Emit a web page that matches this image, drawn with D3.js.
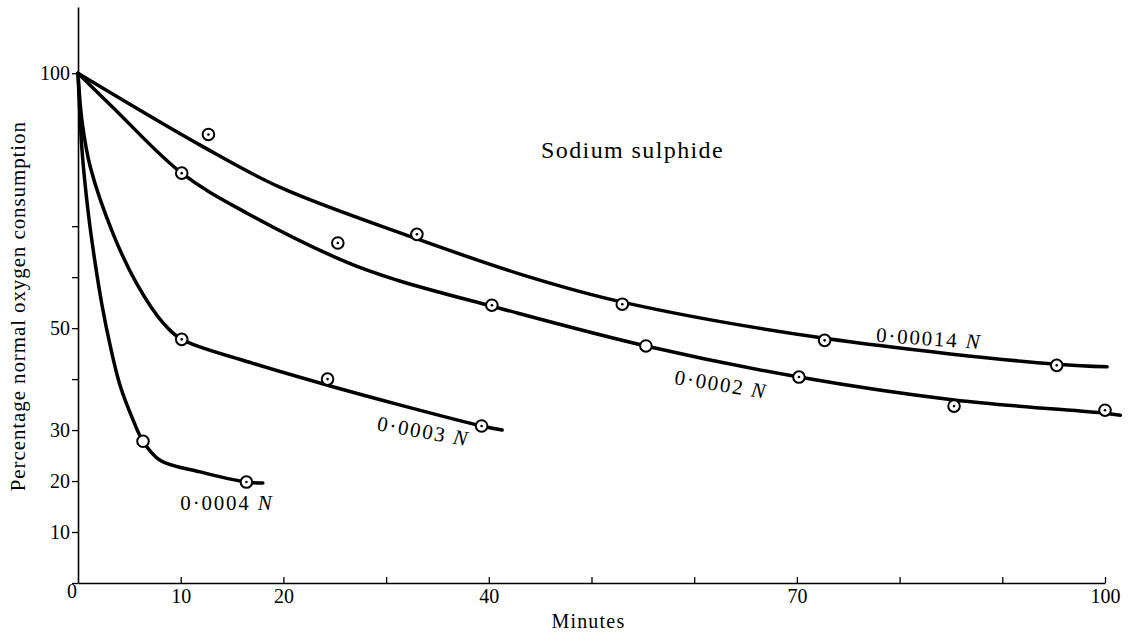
<!DOCTYPE html>
<html>
<head>
<meta charset="utf-8">
<script src="https://cdn.jsdelivr.net/npm/d3@7"></script>
<style>
  html, body { margin: 0; padding: 0; background: #fff; }
  svg { display: block; }
  text { font-family: "Liberation Serif", "DejaVu Serif", serif; fill: #000; }
</style>
</head>
<body>
<svg id="chart" width="1131" height="636"></svg>
<script>
// ---------- data ----------
const title = "Sodium sulphide";
const xTitle = "Minutes";
const yTitle = "Percentage normal oxygen consumption";

const xTickValues = [10, 20, 30, 40, 50, 60, 70, 80, 90, 100];
const xTickLabels = ["10", "20", "", "40", "", "", "70", "", "", "100"];
const yTickValues = [0, 10, 20, 30, 40, 50, 60, 70, 100];
const yTickLabels = ["0", "10", "20", "30", "", "50", "", "", "100"];

const seriesNames = ["0·00014", "0·0002", "0·0003", "0·0004"];

// smooth curves as drawn (minutes, % normal)
const curve00014X = [0, 11.9, 19.7, 32.6, 44, 53, 72.7, 95.3, 100.2];
const curve00014Y = [100, 85.9, 77.6, 67.8, 60, 55.1, 48, 42.9, 42.4];
const curve0002X = [0, 3.4, 10.1, 16.5, 26.2, 31.1, 40.3, 55.3, 70.2, 85.3, 100, 101.5];
const curve0002Y = [100, 93.3, 80.4, 72.5, 62.9, 59.4, 54.3, 46.5, 40.4, 35.9, 33.3, 32.9];
const curve0003X = [0, 0.4, 1.2, 3.4, 5.7, 8.3, 10.1, 16.7, 24.3, 31.4, 39.3, 41.3];
const curve0003Y = [100, 90.5, 81.6, 68.6, 58.8, 51, 47.8, 43.3, 38.8, 34.9, 30.8, 30.0];
const curve0004X = [0, 0.39, 0.97, 1.66, 2.34, 3.12, 4.09, 5.36, 6.33, 7.98, 11.9, 16.4, 18];
const curve0004Y = [100, 84.9, 73.1, 62.9, 54.5, 46.7, 38.8, 32.0, 27.8, 24.1, 21.8, 19.8, 19.6];

// observed points
const pts00014X = [12.7, 33, 53, 72.7, 95.3];
const pts00014Y = [88, 68.4, 54.7, 47.6, 42.7];
const pts00014Dot = [true, true, true, true, true];
const pts0002X = [10.1, 25.3, 40.3, 55.3, 70.2, 85.3, 100];
const pts0002Y = [80.4, 66.7, 54.5, 46.5, 40.4, 34.7, 33.9];
const pts0002Dot = [true, true, true, false, true, true, true];
const pts0003X = [10.1, 24.3, 39.3];
const pts0003Y = [47.8, 40, 30.8];
const pts0003Dot = [true, true, true];
const pts0004X = [6.33, 16.4];
const pts0004Y = [27.8, 19.8];
const pts0004Dot = [false, true];

// ---------- build ----------
const curvesX = [curve00014X, curve0002X, curve0003X, curve0004X];
const curvesY = [curve00014Y, curve0002Y, curve0003Y, curve0004Y];
const ptsX = [pts00014X, pts0002X, pts0003X, pts0004X];
const ptsY = [pts00014Y, pts0002Y, pts0003Y, pts0004Y];
const ptsDot = [pts00014Dot, pts0002Dot, pts0003Dot, pts0004Dot];

const svg = d3.select("#chart");
const x = d3.scaleLinear().domain([0, 100]).range([78, 1105]);
const y = d3.scaleLinear().domain([0, 113]).range([583, 7]);

// y axis
const yAxis = d3.axisLeft(y)
  .tickValues(yTickValues)
  .tickFormat((d, i) => yTickLabels[i])
  .tickSizeInner(6).tickSizeOuter(0).tickPadding(3);
const gy = svg.append("g").attr("transform", "translate(78,0)").call(yAxis);
gy.select(".domain").attr("stroke", "#000").attr("stroke-width", 1.6);
gy.selectAll(".tick line").attr("stroke", "#000").attr("stroke-width", 1.3);
gy.selectAll(".tick text").attr("font-size", 20)
  .attr("dy", (d) => d === 0 ? "0.72em" : "0.32em")
  .attr("x", (d) => d === 0 ? -1 : -8);

// x axis
const xAxis = d3.axisBottom(x)
  .tickValues(xTickValues)
  .tickFormat((d, i) => xTickLabels[i])
  .tickSizeInner(-6).tickSizeOuter(0).tickPadding(6);
const gx = svg.append("g").attr("transform", "translate(0,583)").call(xAxis);
gx.select(".domain").attr("stroke", "#000").attr("stroke-width", 1.6);
gx.selectAll(".tick line").attr("stroke", "#000").attr("stroke-width", 1.3);
gx.selectAll(".tick text").attr("font-size", 20);

// curves
const line = d3.line()
  .x((d) => x(d[0])).y((d) => y(d[1]))
  .curve(d3.curveCatmullRom.alpha(0.5));
curvesX.forEach((cx, s) => {
  const data = cx.map((v, i) => [v, curvesY[s][i]]);
  svg.append("path").datum(data)
    .attr("d", line)
    .attr("fill", "none").attr("stroke", "#000")
    .attr("stroke-width", 3.5).attr("stroke-linecap", "round").attr("stroke-linejoin", "round");
});

// points
ptsX.forEach((px, s) => {
  const data = px.map((v, i) => ({ x: v, y: ptsY[s][i], dot: ptsDot[s][i] }));
  const g = svg.append("g");
  g.selectAll("circle.pt").data(data).enter().append("circle")
    .attr("class", "pt")
    .attr("cx", (d) => x(d.x)).attr("cy", (d) => y(d.y)).attr("r", 5.8)
    .attr("fill", "#fff").attr("stroke", "#000").attr("stroke-width", 2);
  g.selectAll("circle.dot").data(data.filter((d) => d.dot)).enter().append("circle")
    .attr("class", "dot")
    .attr("cx", (d) => x(d.x)).attr("cy", (d) => y(d.y)).attr("r", 1.3)
    .attr("fill", "#000");
});

// series labels: [series index, minutes, percent, rotation]
const labelPos = [[0, 82.8, 46.6, 4], [1, 62.5, 37.6, 9], [2, 33.5, 28.4, 10], [3, 14.5, 14.3, 0]];
labelPos.forEach(([s, lx, ly, rot]) => {
  const t = svg.append("text")
    .attr("transform", `translate(${x(lx)},${y(ly)}) rotate(${rot})`)
    .attr("text-anchor", "middle")
    .attr("font-size", 21).attr("letter-spacing", 1.8);
  t.append("tspan").text(seriesNames[s] + " ");
  t.append("tspan").attr("font-style", "italic").text("N");
});

// chart title
svg.append("text")
  .attr("x", x(54.0)).attr("y", y(83.4))
  .attr("text-anchor", "middle").attr("font-size", 24).attr("letter-spacing", 1.4)
  .text(title);

// axis titles
svg.append("text")
  .attr("x", x(49.7)).attr("y", 628)
  .attr("text-anchor", "middle").attr("font-size", 20).attr("letter-spacing", 1.2)
  .text(xTitle);
svg.append("text")
  .attr("transform", `translate(25,${y(54.3)}) rotate(-90)`)
  .attr("text-anchor", "middle").attr("font-size", 21).attr("letter-spacing", 0.9)
  .text(yTitle);
</script>
</body>
</html>
